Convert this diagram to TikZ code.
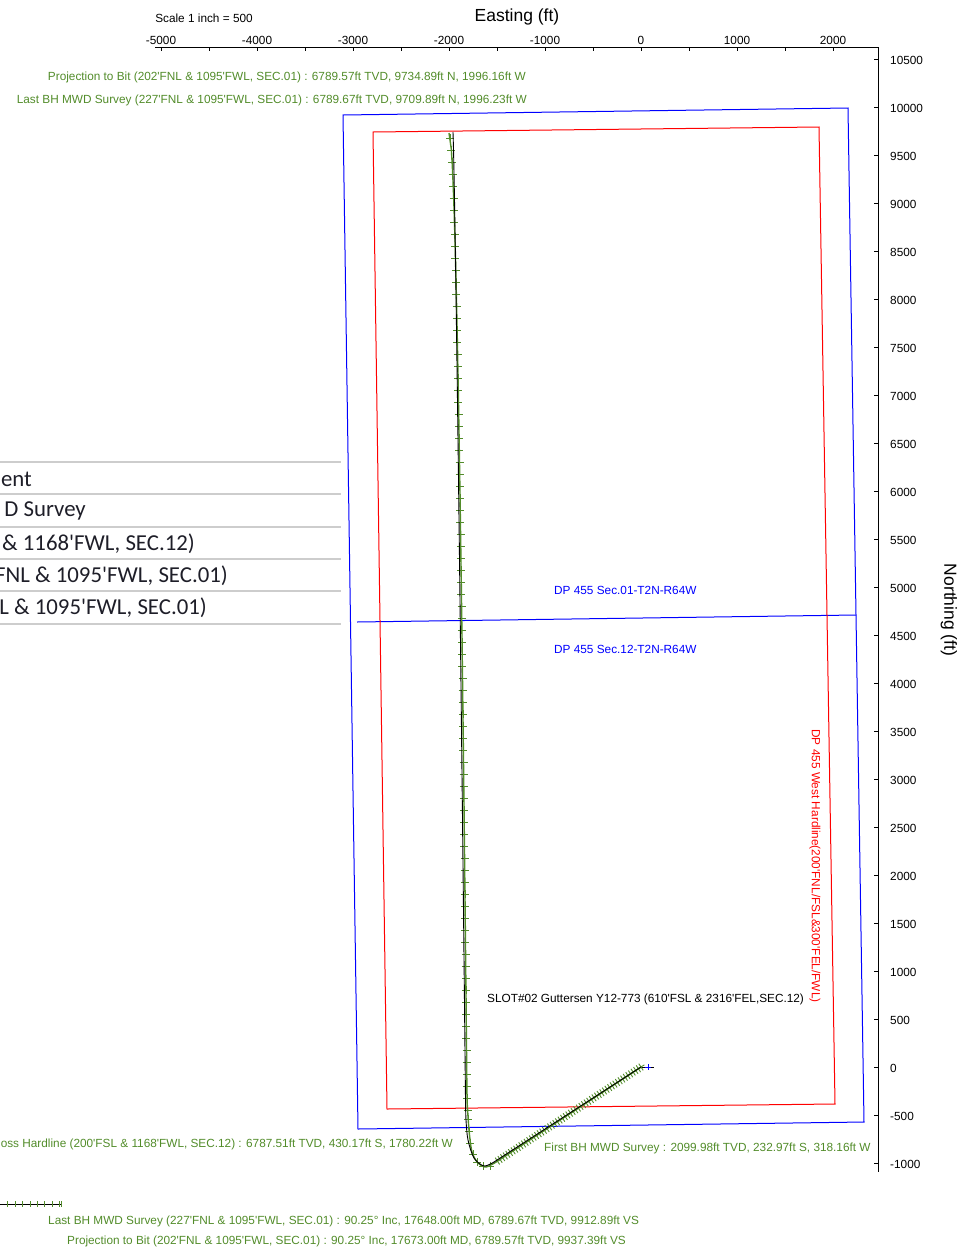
\documentclass[tikz,border=0pt]{standalone}
\usepackage{fontspec}
\newfontfamily\lsans{Liberation Sans}
\newfontfamily\calib{Carlito}
\definecolor{wellgreen}{RGB}{82,140,42}
\definecolor{rowline}{RGB}{205,205,205}
\definecolor{tabtext}{RGB}{30,30,40}
\tikzset{
  lbl/.style={font=\lsans\fontsize{11.8}{13}\selectfont, inner sep=0pt},
  glbl/.style={lbl, text=wellgreen},
  tick/.style={line width=0.9pt},
  axisline/.style={line width=1pt},
  bound/.style={blue, line width=1pt},
  hard/.style={red, line width=1pt},
  tabrow/.style={rowline, line width=1.3pt},
  tabtxt/.style={font=\calib\fontsize{22.8}{24}\selectfont, text=tabtext, inner sep=0pt, anchor=east},
  gmark/.style={wellgreen, line width=0.9pt}
}
\begin{document}
\begin{tikzpicture}[x=1pt,y=-1pt]
\useasboundingbox (0,0) rectangle (959,1248);
% left table (clipped)
\foreach \yy/\nm in {462/r0,494/r1,527/r2,559/r3,591/r4,624/r5}{
  \coordinate (\nm a) at (0,\yy); \coordinate (\nm b) at (341,\yy);
  \draw[tabrow] (\nm a) -- (\nm b);
}
\node[tabtxt] (t1) at (32,479) {ent};
\node[tabtxt] (t2) at (86,511) {D Survey};
\node[tabtxt] (t3) at (195,544) {\& 1168'FWL, SEC.12)};
\node[tabtxt] (t4) at (228,576) {FNL \& 1095'FWL, SEC.01)};
\node[tabtxt] (t5) at (207,608) {L \& 1095'FWL, SEC.01)};
% axes
\coordinate (ax0) at (155,47); \coordinate (ax1) at (878,47); \coordinate (ax2) at (878,1172);
\draw[axisline] (ax0) -- (ax1) -- (ax2);
\foreach \k in {0,...,14}{
  \draw[tick] (161+48*\k,47) -- (161+48*\k,51);
}
\foreach \v [count=\i from 0] in {-5000,-4000,-3000,-2000,-1000,0,1000,2000}{
  \node[lbl, anchor=base] (ex\i) at (161+96*\i,44) {\v};
}
\foreach \k in {0,...,23}{
  \pgfmathtruncatemacro\val{10500-500*\k}
  \draw[tick] (874,59+48*\k) -- (878,59+48*\k);
  \node[lbl, anchor=west] (ny\k) at (890,60+48*\k) {\val};
}
\node[font=\lsans\fontsize{17.5}{19}\selectfont, inner sep=0pt] (etitle) at (517,17) {Easting (ft)};
\node[font=\lsans\fontsize{17.5}{19}\selectfont, inner sep=0pt, rotate=-90] (ntitle) at (949,610) {Northing (ft)};
\node[lbl] (scale) at (204,18) {Scale 1 inch = 500};
% section boundaries
\coordinate (b1) at (343,115); \coordinate (b2) at (848,108);
\coordinate (b3) at (864,1122); \coordinate (b4) at (358,1129);
\coordinate (m1) at (357,622); \coordinate (m2) at (856,615);
\draw[bound] (b1) -- (b2) -- (b3) -- (b4) -- cycle;
\draw[bound] (m1) -- (m2);
% hardline
\coordinate (h1) at (373,132); \coordinate (h2) at (819,127);
\coordinate (h3) at (835,1104); \coordinate (h4) at (387,1109);
\draw[hard] (h1) -- (h2) -- (h3) -- (h4) -- cycle;
% well path
\coordinate (slot) at (641,1067);
\coordinate (turn) at (496,1162);
\coordinate (tip) at (654,1067);
\draw[black, line width=0.9pt] (slot) -- (tip);
\draw[blue, line width=0.8pt] (648,1064) -- (648,1070) (645,1067) -- (651,1067);
% green survey line
\draw[wellgreen, line width=1.4pt] (slot) -- (turn);
\draw[wellgreen, line width=1.4pt] plot[smooth] coordinates {(496,1162) (486,1167) (478,1163) (472,1152) (469,1130) (467,1100)};
\draw[wellgreen, line width=1.4pt] plot[domain=133:1100, samples=60] ({449+18*sqrt((\x-133)/967)}, \x);
% marks on diagonal
\foreach \t in {0,0.018,...,1.001}{
  \pgfmathsetmacro\cx{641-145*\t}
  \pgfmathsetmacro\cy{1067+95*\t}
  \draw[gmark] (\cx-3.35,\cy+2.19) -- (\cx+3.35,\cy-2.19) (\cx+2.19,\cy+3.35) -- (\cx-2.19,\cy-3.35);
}
% marks round the bend
\foreach \cx/\cy in {490/1166,483/1166,477/1162,473/1154,470/1143,469/1131,468/1119,467.5/1110}{
  \draw[gmark] (\cx-4,\cy) -- (\cx+4,\cy) (\cx,\cy-4) -- (\cx,\cy+4);
}
% marks on the long leg
\foreach \cy in {1098,1086,...,135}{
  \pgfmathsetmacro\cx{449+18*sqrt((\cy-133)/967)}
  \draw[gmark] (\cx-4,\cy) -- (\cx+4,\cy) (\cx,\cy-4) -- (\cx,\cy+4);
}
% black plan line
\draw[black, line width=0.9pt] plot[smooth] coordinates {(494,1162) (484,1166) (474,1158) (468,1140) (466,1120) (465.5,1100)};
\draw[black, line width=0.9pt] (slot) -- (494,1162);
\draw[black, line width=0.9pt] plot[domain=132:1100, samples=60] ({453+12.5*((\x-132)/968)^0.8}, \x);
% bottom-left section remnant
\coordinate (v0) at (0,1204); \coordinate (v1) at (62,1204);
\draw[black, line width=0.9pt] (v0) -- (v1);
\foreach \xx in {7,15,22,30,37,44,52,59,61}{
  \draw[gmark] (\xx,1201) -- (\xx,1207);
}
% labels
\node[glbl, anchor=east] (pbt) at (526,77) {Projection to Bit (202'FNL \& 1095'FWL, SEC.01) : 6789.57ft TVD, 9734.89ft N, 1996.16ft W};
\node[glbl, anchor=east] (lbt) at (527,100) {Last BH MWD Survey (227'FNL \& 1095'FWL, SEC.01) : 6789.67ft TVD, 9709.89ft N, 1996.23ft W};
\node[glbl, anchor=east] (xh) at (453,1144) {oss Hardline (200'FSL \& 1168'FWL, SEC.12) : 6787.51ft TVD, 430.17ft S, 1780.22ft W};
\node[glbl, anchor=west] (fbh) at (544,1148) {First BH MWD Survey : 2099.98ft TVD, 232.97ft S, 318.16ft W};
\node[glbl, anchor=west] (lbv) at (48,1221) {Last BH MWD Survey (227'FNL \& 1095'FWL, SEC.01) : 90.25° Inc, 17648.00ft MD, 6789.67ft TVD, 9912.89ft VS};
\node[glbl, anchor=west] (pbv) at (67,1241) {Projection to Bit (202'FNL \& 1095'FWL, SEC.01) : 90.25° Inc, 17673.00ft MD, 6789.57ft TVD, 9937.39ft VS};
\node[lbl, anchor=west] (slotlbl) at (487,999) {SLOT\#02 Guttersen Y12-773 (610'FSL \& 2316'FEL,SEC.12)};
\node[lbl, anchor=west, text=blue] (s01) at (554,590) {DP 455 Sec.01-T2N-R64W};
\node[lbl, anchor=west, text=blue] (s12) at (554,649) {DP 455 Sec.12-T2N-R64W};
\node[lbl, text=red, rotate=-90] (hl) at (815,866) {DP 455 West Hardline(200'FNL/FSL\&300'FEL/FWL)};
\end{tikzpicture}
\end{document}
